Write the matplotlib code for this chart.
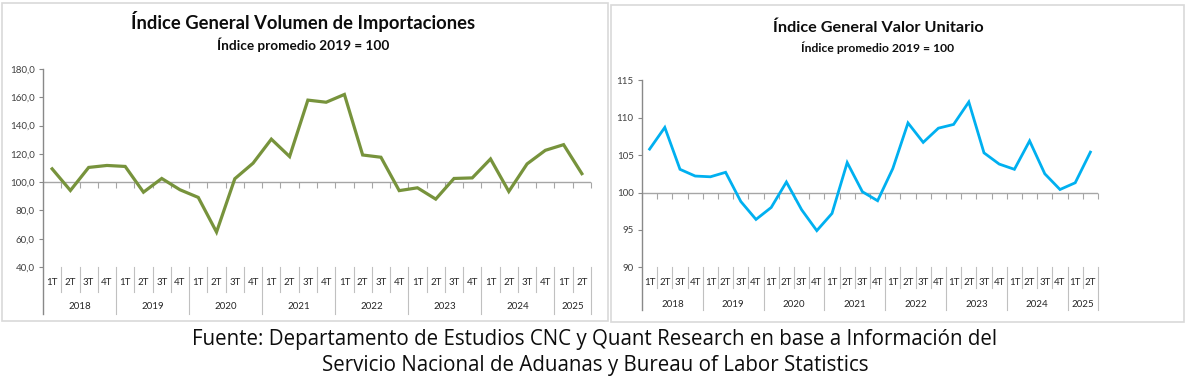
import matplotlib
matplotlib.use("Agg")
import matplotlib.pyplot as plt
import matplotlib.transforms as mtrans
from matplotlib.patches import Rectangle
from matplotlib.lines import Line2D

plt.rcParams['font.family'] = ['Lato', 'DejaVu Sans']

years = ['2018', '2019', '2020', '2021', '2022', '2023', '2024', '2025']
quarters = ['1T', '2T', '3T', '4T']
n_quarters = [4, 4, 4, 4, 4, 4, 4, 2]

volumen = [109.4, 94.1, 110.4, 111.8, 111.1, 92.9, 102.6, 94.6, 89.2, 64.7,
           102.4, 113.4, 130.4, 118.1, 158.0, 156.5, 162.0, 119.2, 117.6, 94.0,
           96.0, 88.0, 102.6, 103.0, 116.4, 93.4, 112.9, 122.5, 126.5, 106.0]

valor = [105.8, 108.7, 103.1, 102.2, 102.1, 102.7, 98.8, 96.4, 98.0, 101.4,
         97.7, 94.9, 97.2, 104.0, 100.1, 98.9, 103.2, 109.3, 106.7, 108.6,
         109.1, 112.1, 105.3, 103.8, 103.1, 106.9, 102.5, 100.4, 101.3, 105.4]

W, H = 1190, 388
fig = plt.figure(figsize=(W / 100, H / 100), dpi=100)


def px_axes(x0, y_top, x1, y_bot):
    return fig.add_axes([x0 / W, 1 - y_bot / H, (x1 - x0) / W, (y_bot - y_top) / H])


# panel borders
for (x0, y0, x1, y1) in [(2, 3, 608, 321), (611, 5, 1184, 322)]:
    fig.patches.append(Rectangle((x0 / W, 1 - y1 / H), (x1 - x0) / W, (y1 - y0) / H,
                                 transform=fig.transFigure, fill=False,
                                 edgecolor='#d9d9d9', linewidth=1.2))


def draw_panel(ax, data, color, ylim, yticks, fmt, lw, q_y, q_sep, yr_y, axis_bottom):
    x = list(range(len(data)))
    ax.plot(x, data, color=color, linewidth=lw, solid_joinstyle='miter', zorder=3)
    ax.set_xlim(-0.5, len(data) - 0.5)
    ax.set_ylim(*ylim)
    for s in ['top', 'right', 'bottom', 'left']:
        ax.spines[s].set_visible(False)
    ax.set_yticks(yticks)
    ax.set_yticklabels([fmt(v) for v in yticks], fontsize=7, color='#404040')
    ax.tick_params(axis='y', length=3, color='#898989', pad=3)
    ax.set_xticks([])
    # axis line at 100 with downward ticks
    ax.axhline(100, color='#a6a6a6', linewidth=1, zorder=2)
    ax.plot([v - 0.5 for v in range(len(data) + 1)], [100] * (len(data) + 1),
            linestyle='none', marker=3, markersize=4, color='#a6a6a6',
            markeredgewidth=0.8, clip_on=False, zorder=2)
    tr = mtrans.blended_transform_factory(ax.transData, ax.transAxes)
    # vertical axis line extended into the label area
    ax.add_line(Line2D([-0.5, -0.5], [1, axis_bottom], transform=tr,
                       color='#898989', linewidth=1, clip_on=False))
    # category labels
    pos = 0
    for yr, nq in zip(years, n_quarters):
        for q in range(nq):
            ax.text(pos + q, q_y, quarters[q], transform=tr, ha='center', va='center',
                    fontsize=7, color='#262626')
            if q > 0:
                ax.add_line(Line2D([pos + q - 0.5] * 2, [0, q_sep], transform=tr,
                                   color='#c0c0c0', linewidth=0.8, clip_on=False))
        ax.text(pos + (nq - 1) / 2, yr_y, yr, transform=tr, ha='center', va='center',
                fontsize=7, color='#262626')
        pos += nq
        ax.add_line(Line2D([pos - 0.5] * 2, [0, axis_bottom], transform=tr,
                           color='#c0c0c0', linewidth=0.8, clip_on=False))


def titles(title, cx, ty, sy, ts, ss):
    fig.text(cx / W, 1 - ty / H, title, ha='center', va='center',
             fontsize=ts, fontweight='bold', color='#0d0d0d')
    fig.text(cx / W, 1 - sy / H, 'Índice promedio 2019 = 100',
             ha='center', va='center', fontsize=ss, fontweight='bold', color='#0d0d0d')


ax1 = px_axes(43, 69, 591, 267)
draw_panel(ax1, volumen, '#77933c', (40, 180), [40, 60, 80, 100, 120, 140, 160, 180],
           lambda v: f'{v:.1f}'.replace('.', ','), 2.3, -0.076, -0.126, -0.2, -0.235)
titles('Índice General Volumen de Importaciones', 303, 22, 45, 13.2, 9.8)

ax2 = px_axes(642, 80.3, 1098, 267.3)
draw_panel(ax2, valor, '#00b0f0', (90, 115), [90, 95, 100, 105, 110, 115],
           lambda v: f'{v:d}', 2.0, -0.079, -0.11, -0.197, -0.228)
titles('Índice General Valor Unitario', 878, 28, 48, 11.7, 8.7)

fig.text(595 / W, 1 - 339 / H,
         'Fuente: Departamento de Estudios CNC y Quant Research en base a Información del',
         ha='center', va='center', fontsize=14.8, color='#0d0d0d', family='Open Sans')
fig.text(595 / W, 1 - 366 / H,
         'Servicio Nacional de Aduanas y Bureau of Labor Statistics',
         ha='center', va='center', fontsize=14.8, color='#0d0d0d', family='Open Sans')

fig.savefig('out.png', dpi=100)
